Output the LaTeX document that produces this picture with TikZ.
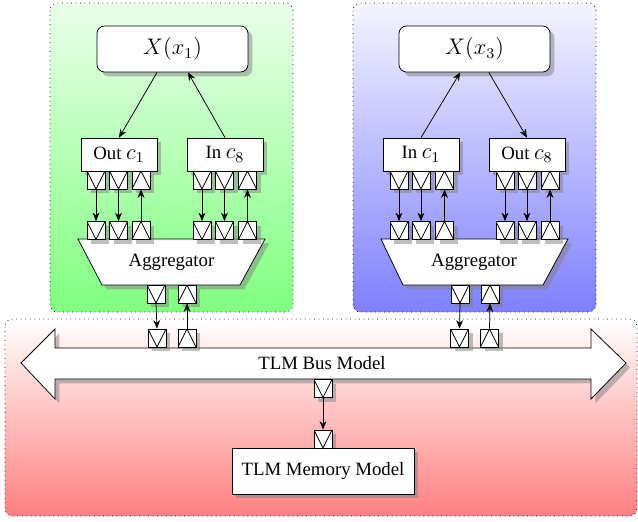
\documentclass[tikz,border=0pt]{standalone}
\usepackage{fontspec}
\setmainfont{Liberation Serif}
\usetikzlibrary{shadows,arrows.meta}
\newcommand\mymath[1]{{\fontsize{12}{14}\selectfont$#1$}}
\begin{document}
\begin{tikzpicture}[x=0.532pt,y=-0.532pt,
  outerbox/.style={draw,dotted,rounded corners=4pt},
  blk/.style={draw,fill=white,drop shadow,inner sep=0pt,font=\normalsize},
  xbox/.style={blk,rounded corners=4pt,minimum width=151*0.532pt,minimum height=46*0.532pt},
  cbox/.style={blk,minimum width=76*0.532pt,minimum height=33*0.532pt},
  membox/.style={blk,minimum width=182*0.532pt,minimum height=46*0.532pt},
  portd/.style={draw,fill=white,drop shadow,minimum size=18*0.532pt,inner sep=0pt,
    path picture={\draw (path picture bounding box.north west) -- (path picture bounding box.south) -- (path picture bounding box.north east);}},
  portu/.style={draw,fill=white,drop shadow,minimum size=18*0.532pt,inner sep=0pt,
    path picture={\draw (path picture bounding box.south west) -- (path picture bounding box.north) -- (path picture bounding box.south east);}},
  conn/.style={-{Stealth[length=4.5pt,width=3.6pt]}},
  aggshape/.style={draw,fill=white,drop shadow}
]
\useasboundingbox (0,0) rectangle (638,521);
% outer regions
\shade[top color=green!8,bottom color=green!50,rounded corners=4pt] (50,3) rectangle (293,312);
\draw[outerbox] (50,3) rectangle (293,312);
\shade[top color=blue!4,bottom color=blue!50,rounded corners=4pt] (353,3) rectangle (596,312);
\draw[outerbox] (353,3) rectangle (596,312);
\shade[top color=white,bottom color=red!50,rounded corners=4pt] (5,319) rectangle (637,516);
\draw[outerbox] (5,319) rectangle (637,516);

% ---------- left (green) ----------
\node[xbox] (X1) at (172.5,49) {\mymath{X(x_1)}};
\node[cbox] (OutA) at (119,154.5) {Out \mymath{c_1}};
\node[cbox] (InA) at (225,154.5) {In \mymath{c_8}};
\node[portd] (oa1) at (96,180) {};
\node[portd] (oa2) at (118.5,180) {};
\node[portu] (oa3) at (141,180) {};
\node[portd] (ia1) at (202,180) {};
\node[portd] (ia2) at (224.5,180) {};
\node[portu] (ia3) at (247.5,180) {};
\path[aggshape] (78,239) -- (265,239) -- (240,285) -- (102,285) -- cycle;
\node (AggA) at (171.5,262) {Aggregator};
\node[portd] (ga1) at (96,230.5) {};
\node[portd] (ga2) at (118.5,230.5) {};
\node[portu] (ga3) at (141,230.5) {};
\node[portd] (ga4) at (202,230.5) {};
\node[portd] (ga5) at (224.5,230.5) {};
\node[portu] (ga6) at (247.5,230.5) {};
\node[portd] (gb1) at (156,294) {};
\node[portu] (gb2) at (187,294) {};

% ---------- right (blue) ----------
\node[xbox] (X3) at (474.5,49) {\mymath{X(x_3)}};
\node[cbox] (InB) at (421,154.5) {In \mymath{c_1}};
\node[cbox] (OutB) at (527,154.5) {Out \mymath{c_8}};
\node[portd] (ib1) at (399,180) {};
\node[portd] (ib2) at (421,180) {};
\node[portu] (ib3) at (444.5,180) {};
\node[portd] (ob1) at (505,180) {};
\node[portd] (ob2) at (527,180) {};
\node[portu] (ob3) at (550,180) {};
\path[aggshape] (381,239) -- (568,239) -- (543,285) -- (403,285) -- cycle;
\node (AggB) at (474,262) {Aggregator};
\node[portd] (ba1) at (399,230.5) {};
\node[portd] (ba2) at (421,230.5) {};
\node[portu] (ba3) at (444.5,230.5) {};
\node[portd] (ba4) at (505,230.5) {};
\node[portd] (ba5) at (527,230.5) {};
\node[portu] (ba6) at (550,230.5) {};
\node[portd] (bb1) at (460,294) {};
\node[portu] (bb2) at (490,294) {};

% ---------- bus ----------
\path[draw,fill=white,drop shadow] (21,363) -- (55,329) -- (55,348) -- (591,348) -- (591,329) -- (626,363)
  -- (591,399) -- (591,379) -- (55,379) -- (55,399) -- cycle;
\node (Bus) at (322,363) {TLM Bus Model};
\node[portd] (pa1) at (157,338) {};
\node[portu] (pa2) at (187,338) {};
\node[portd] (pb1) at (459.5,338) {};
\node[portu] (pb2) at (489.5,338) {};
\node[portd] (pm1) at (323,388.5) {};
\node[portd] (pm2) at (323,439) {};
\node[membox] (Mem) at (323,471) {TLM Memory Model};

% ---------- connectors ----------
\draw[conn] ([xshift=-8.2pt]X1.south) -- (OutA.north);
\draw[conn] (InA.north) -- ([xshift=8.2pt]X1.south);
\draw[conn] (InB.north) -- ([xshift=-7.6pt]X3.south);
\draw[conn] ([xshift=7.6pt]X3.south) -- (OutB.north);

\draw[conn] (oa1.south) -- (ga1.north);
\draw[conn] (oa2.south) -- (ga2.north);
\draw[conn] (ga3.north) -- (oa3.south);
\draw[conn] (ia1.south) -- (ga4.north);
\draw[conn] (ia2.south) -- (ga5.north);
\draw[conn] (ga6.north) -- (ia3.south);

\draw[conn] (ib1.south) -- (ba1.north);
\draw[conn] (ib2.south) -- (ba2.north);
\draw[conn] (ba3.north) -- (ib3.south);
\draw[conn] (ob1.south) -- (ba4.north);
\draw[conn] (ob2.south) -- (ba5.north);
\draw[conn] (ba6.north) -- (ob3.south);

\draw[conn] (gb1.south) -- (pa1.north);
\draw[conn] (pa2.north) -- (gb2.south);
\draw[conn] (bb1.south) -- (pb1.north);
\draw[conn] (pb2.north) -- (bb2.south);
\draw[conn] (pm1.south) -- (pm2.north);
\end{tikzpicture}
\end{document}
